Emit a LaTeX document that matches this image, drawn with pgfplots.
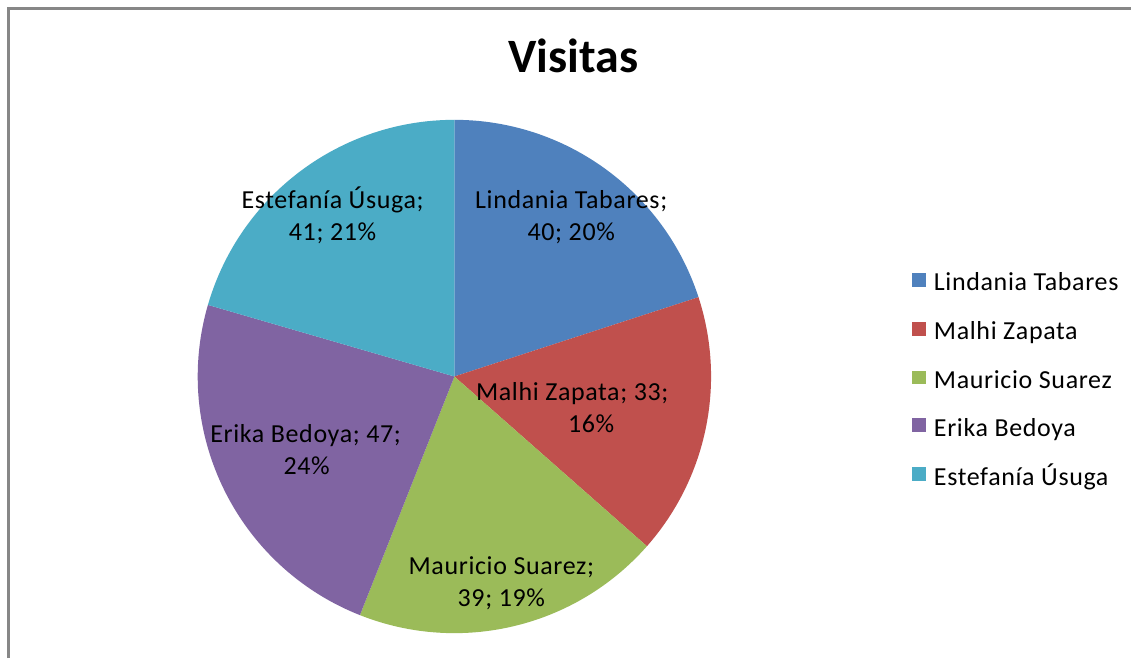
\documentclass[border=0pt]{standalone}
\usepackage{fontspec}
\setmainfont{Carlito}
\newfontfamily\lblfont[LetterSpace=2.5]{Carlito}
\usepackage{pgfplots}
\pgfplotsset{compat=1.18}
\definecolor{c1}{HTML}{4F81BD}
\definecolor{c2}{HTML}{C0504D}
\definecolor{c3}{HTML}{9BBB59}
\definecolor{c4}{HTML}{8064A2}
\definecolor{c5}{HTML}{4BACC6}
\definecolor{framec}{HTML}{878787}
\begin{document}
\begin{tikzpicture}
\begin{axis}[x=1pt,y=1pt,xmin=0,xmax=1132,ymin=0,ymax=659,hide axis,clip=false]
\path[fill=white] (axis cs:0,0) rectangle (axis cs:1132,659);
\draw[framec,line width=3pt] (axis cs:8.5,0) -- (axis cs:8.5,650.5) -- (axis cs:1132,650.5);
\pgfplotsextra{
  \gdef\cum{0}
  \foreach \v/\col in {40/c1,33/c2,39/c3,47/c4,41/c5}{
    \pgfmathsetmacro\sa{90-\cum/200*360}
    \pgfmathsetmacro\sb{90-(\cum+\v)/200*360}
    \fill[\col] (axis cs:455,282) -- ++(\sa:257pt) arc[start angle=\sa, end angle=\sb, radius=257pt] -- cycle;
    \pgfmathsetmacro\nn{\cum+\v}\xdef\cum{\nn}
  }
}
% title
\node[anchor=base,inner sep=0,font=\fontsize{48}{56}\selectfont\bfseries] at (axis cs:574,586) {Visitas};
% data labels
\begin{scope}[every node/.style={anchor=base,inner sep=0,font=\lblfont\fontsize{26}{31}\selectfont}]
\node at (axis cs:572,450) {Lindania Tabares;};
\node at (axis cs:572,418) {40; 20\%};
\node at (axis cs:333,450) {Estefanía Úsuga;};
\node at (axis cs:333,418) {41; 21\%};
\node at (axis cs:573,258) {Malhi Zapata; 33;};
\node at (axis cs:592,226) {16\%};
\node at (axis cs:306,216) {Erika Bedoya; 47;};
\node at (axis cs:307,184) {24\%};
\node at (axis cs:502,84) {Mauricio Suarez;};
\node at (axis cs:502,52) {39; 19\%};
\end{scope}
% legend
\begin{scope}[every node/.style={anchor=base west,inner sep=0,font=\lblfont\fontsize{26}{30}\selectfont}]
\fill[c1] (axis cs:913,372) rectangle (axis cs:927,386);
\node at (axis cs:935,368) {Lindania Tabares};
\fill[c2] (axis cs:913,323) rectangle (axis cs:927,337);
\node at (axis cs:935,319) {Malhi Zapata};
\fill[c3] (axis cs:913,274) rectangle (axis cs:927,288);
\node at (axis cs:935,270) {Mauricio Suarez};
\fill[c4] (axis cs:913,226) rectangle (axis cs:927,240);
\node at (axis cs:935,222) {Erika Bedoya};
\fill[c5] (axis cs:913,177) rectangle (axis cs:927,191);
\node at (axis cs:935,173) {Estefanía Úsuga};
\end{scope}
\end{axis}
\end{tikzpicture}
\end{document}
